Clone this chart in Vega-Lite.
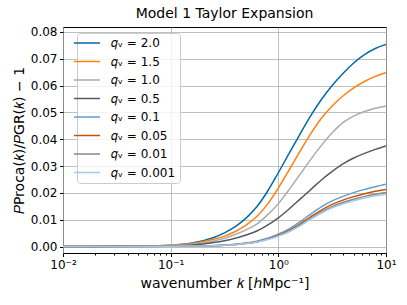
{
  "$schema": "https://vega.github.io/schema/vega-lite/v6.json",
  "width": 323,
  "height": 226,
  "autosize": "none",
  "padding": {"left": 63, "top": 27, "right": 21, "bottom": 52},
  "background": "white",
  "title": {"text": "Model 1 Taylor Expansion", "fontSize": 14, "fontWeight": "normal", "font": "DejaVu Sans", "color": "black", "offset": 5},
  "config": {
    "font": "DejaVu Sans",
    "view": {"stroke": "black", "strokeWidth": 1},
    "axis": {"labelFont": "DejaVu Sans", "titleFont": "DejaVu Sans", "labelColor": "black", "titleColor": "black", "labelFontSize": 12, "titleFontSize": 14, "titleFontWeight": "normal", "tickColor": "black", "domainColor": "black", "gridColor": "#b0b0b0", "gridWidth": 0.8, "tickSize": 3.5, "labelPadding": 2.5}
  },
  "data": {"values": [
    {"k": 0.01, "v": 0.00003, "q": "2.0"}, {"k": 0.031623, "v": 0.0001, "q": "2.0"}, {"k": 0.1, "v": 0.0005, "q": "2.0"}, {"k": 0.158489, "v": 0.0013, "q": "2.0"}, {"k": 0.251189, "v": 0.0034, "q": "2.0"}, {"k": 0.316228, "v": 0.0051, "q": "2.0"}, {"k": 0.398107, "v": 0.0074, "q": "2.0"}, {"k": 0.501187, "v": 0.0106, "q": "2.0"}, {"k": 0.630957, "v": 0.0148, "q": "2.0"}, {"k": 0.794328, "v": 0.0206, "q": "2.0"}, {"k": 1, "v": 0.0275, "q": "2.0"}, {"k": 1.258925, "v": 0.0347, "q": "2.0"}, {"k": 1.584893, "v": 0.0418, "q": "2.0"}, {"k": 1.995262, "v": 0.0487, "q": "2.0"}, {"k": 2.511886, "v": 0.0548, "q": "2.0"}, {"k": 3.162278, "v": 0.0600, "q": "2.0"}, {"k": 3.981072, "v": 0.0645, "q": "2.0"}, {"k": 5.011872, "v": 0.0684, "q": "2.0"}, {"k": 6.309573, "v": 0.0715, "q": "2.0"}, {"k": 7.943282, "v": 0.0738, "q": "2.0"}, {"k": 10, "v": 0.0753, "q": "2.0"},
    {"k": 0.01, "v": 0.00003, "q": "1.5"}, {"k": 0.031623, "v": 0.0001, "q": "1.5"}, {"k": 0.1, "v": 0.0005, "q": "1.5"}, {"k": 0.158489, "v": 0.0011, "q": "1.5"}, {"k": 0.251189, "v": 0.0027, "q": "1.5"}, {"k": 0.316228, "v": 0.0039, "q": "1.5"}, {"k": 0.398107, "v": 0.0056, "q": "1.5"}, {"k": 0.501187, "v": 0.0080, "q": "1.5"}, {"k": 0.630957, "v": 0.0112, "q": "1.5"}, {"k": 0.794328, "v": 0.0158, "q": "1.5"}, {"k": 1, "v": 0.0218, "q": "1.5"}, {"k": 1.258925, "v": 0.0285, "q": "1.5"}, {"k": 1.584893, "v": 0.0354, "q": "1.5"}, {"k": 1.995262, "v": 0.0420, "q": "1.5"}, {"k": 2.511886, "v": 0.0478, "q": "1.5"}, {"k": 3.162278, "v": 0.0524, "q": "1.5"}, {"k": 3.981072, "v": 0.0561, "q": "1.5"}, {"k": 5.011872, "v": 0.0591, "q": "1.5"}, {"k": 6.309573, "v": 0.0615, "q": "1.5"}, {"k": 7.943282, "v": 0.0634, "q": "1.5"}, {"k": 10, "v": 0.0648, "q": "1.5"},
    {"k": 0.01, "v": 0.00002, "q": "1.0"}, {"k": 0.031623, "v": 0.0001, "q": "1.0"}, {"k": 0.1, "v": 0.0004, "q": "1.0"}, {"k": 0.158489, "v": 0.0009, "q": "1.0"}, {"k": 0.251189, "v": 0.0021, "q": "1.0"}, {"k": 0.316228, "v": 0.0031, "q": "1.0"}, {"k": 0.398107, "v": 0.0045, "q": "1.0"}, {"k": 0.501187, "v": 0.0062, "q": "1.0"}, {"k": 0.630957, "v": 0.0084, "q": "1.0"}, {"k": 0.794328, "v": 0.0118, "q": "1.0"}, {"k": 1, "v": 0.0160, "q": "1.0"}, {"k": 1.258925, "v": 0.0212, "q": "1.0"}, {"k": 1.584893, "v": 0.0268, "q": "1.0"}, {"k": 1.995262, "v": 0.0324, "q": "1.0"}, {"k": 2.511886, "v": 0.0377, "q": "1.0"}, {"k": 3.162278, "v": 0.0424, "q": "1.0"}, {"k": 3.981072, "v": 0.0462, "q": "1.0"}, {"k": 5.011872, "v": 0.0486, "q": "1.0"}, {"k": 6.309573, "v": 0.0503, "q": "1.0"}, {"k": 7.943282, "v": 0.0515, "q": "1.0"}, {"k": 10, "v": 0.0524, "q": "1.0"},
    {"k": 0.01, "v": 0.00001, "q": "0.5"}, {"k": 0.031623, "v": 0.00008, "q": "0.5"}, {"k": 0.1, "v": 0.0003, "q": "0.5"}, {"k": 0.158489, "v": 0.0006, "q": "0.5"}, {"k": 0.251189, "v": 0.0015, "q": "0.5"}, {"k": 0.316228, "v": 0.0022, "q": "0.5"}, {"k": 0.398107, "v": 0.0031, "q": "0.5"}, {"k": 0.501187, "v": 0.0043, "q": "0.5"}, {"k": 0.630957, "v": 0.0058, "q": "0.5"}, {"k": 0.794328, "v": 0.0080, "q": "0.5"}, {"k": 1, "v": 0.0107, "q": "0.5"}, {"k": 1.258925, "v": 0.0140, "q": "0.5"}, {"k": 1.584893, "v": 0.0176, "q": "0.5"}, {"k": 1.995262, "v": 0.0212, "q": "0.5"}, {"k": 2.511886, "v": 0.0248, "q": "0.5"}, {"k": 3.162278, "v": 0.0280, "q": "0.5"}, {"k": 3.981072, "v": 0.0308, "q": "0.5"}, {"k": 5.011872, "v": 0.0330, "q": "0.5"}, {"k": 6.309573, "v": 0.0347, "q": "0.5"}, {"k": 7.943282, "v": 0.0362, "q": "0.5"}, {"k": 10, "v": 0.0375, "q": "0.5"},
    {"k": 0.01, "v": 0.00001, "q": "0.1"}, {"k": 0.031623, "v": 0.00003, "q": "0.1"}, {"k": 0.1, "v": 0.0001, "q": "0.1"}, {"k": 0.158489, "v": 0.0002, "q": "0.1"}, {"k": 0.251189, "v": 0.0004, "q": "0.1"}, {"k": 0.316228, "v": 0.0006, "q": "0.1"}, {"k": 0.398107, "v": 0.0009, "q": "0.1"}, {"k": 0.501187, "v": 0.0013, "q": "0.1"}, {"k": 0.630957, "v": 0.0020, "q": "0.1"}, {"k": 0.794328, "v": 0.0031, "q": "0.1"}, {"k": 1, "v": 0.0046, "q": "0.1"}, {"k": 1.258925, "v": 0.0066, "q": "0.1"}, {"k": 1.584893, "v": 0.0092, "q": "0.1"}, {"k": 1.995262, "v": 0.0121, "q": "0.1"}, {"k": 2.511886, "v": 0.0148, "q": "0.1"}, {"k": 3.162278, "v": 0.0170, "q": "0.1"}, {"k": 3.981072, "v": 0.0187, "q": "0.1"}, {"k": 5.011872, "v": 0.0201, "q": "0.1"}, {"k": 6.309573, "v": 0.0213, "q": "0.1"}, {"k": 7.943282, "v": 0.0223, "q": "0.1"}, {"k": 10, "v": 0.0232, "q": "0.1"},
    {"k": 0.01, "v": 0.00001, "q": "0.05"}, {"k": 0.031623, "v": 0.00003, "q": "0.05"}, {"k": 0.1, "v": 0.0001, "q": "0.05"}, {"k": 0.158489, "v": 0.0002, "q": "0.05"}, {"k": 0.251189, "v": 0.0003, "q": "0.05"}, {"k": 0.316228, "v": 0.0005, "q": "0.05"}, {"k": 0.398107, "v": 0.0008, "q": "0.05"}, {"k": 0.501187, "v": 0.0012, "q": "0.05"}, {"k": 0.630957, "v": 0.0018, "q": "0.05"}, {"k": 0.794328, "v": 0.0028, "q": "0.05"}, {"k": 1, "v": 0.0042, "q": "0.05"}, {"k": 1.258925, "v": 0.0060, "q": "0.05"}, {"k": 1.584893, "v": 0.0084, "q": "0.05"}, {"k": 1.995262, "v": 0.0111, "q": "0.05"}, {"k": 2.511886, "v": 0.0136, "q": "0.05"}, {"k": 3.162278, "v": 0.0157, "q": "0.05"}, {"k": 3.981072, "v": 0.0173, "q": "0.05"}, {"k": 5.011872, "v": 0.0186, "q": "0.05"}, {"k": 6.309573, "v": 0.0197, "q": "0.05"}, {"k": 7.943282, "v": 0.0206, "q": "0.05"}, {"k": 10, "v": 0.0213, "q": "0.05"},
    {"k": 0.01, "v": 0.00001, "q": "0.01"}, {"k": 0.031623, "v": 0.00003, "q": "0.01"}, {"k": 0.1, "v": 0.0001, "q": "0.01"}, {"k": 0.158489, "v": 0.0002, "q": "0.01"}, {"k": 0.251189, "v": 0.0003, "q": "0.01"}, {"k": 0.316228, "v": 0.0005, "q": "0.01"}, {"k": 0.398107, "v": 0.0007, "q": "0.01"}, {"k": 0.501187, "v": 0.0011, "q": "0.01"}, {"k": 0.630957, "v": 0.0017, "q": "0.01"}, {"k": 0.794328, "v": 0.0027, "q": "0.01"}, {"k": 1, "v": 0.0040, "q": "0.01"}, {"k": 1.258925, "v": 0.0057, "q": "0.01"}, {"k": 1.584893, "v": 0.0080, "q": "0.01"}, {"k": 1.995262, "v": 0.0105, "q": "0.01"}, {"k": 2.511886, "v": 0.0129, "q": "0.01"}, {"k": 3.162278, "v": 0.0149, "q": "0.01"}, {"k": 3.981072, "v": 0.0164, "q": "0.01"}, {"k": 5.011872, "v": 0.0176, "q": "0.01"}, {"k": 6.309573, "v": 0.0187, "q": "0.01"}, {"k": 7.943282, "v": 0.0195, "q": "0.01"}, {"k": 10, "v": 0.0201, "q": "0.01"},
    {"k": 0.01, "v": 0.00001, "q": "0.001"}, {"k": 0.031623, "v": 0.00003, "q": "0.001"}, {"k": 0.1, "v": 0.0001, "q": "0.001"}, {"k": 0.158489, "v": 0.0002, "q": "0.001"}, {"k": 0.251189, "v": 0.0003, "q": "0.001"}, {"k": 0.316228, "v": 0.0005, "q": "0.001"}, {"k": 0.398107, "v": 0.0007, "q": "0.001"}, {"k": 0.501187, "v": 0.0011, "q": "0.001"}, {"k": 0.630957, "v": 0.0017, "q": "0.001"}, {"k": 0.794328, "v": 0.0026, "q": "0.001"}, {"k": 1, "v": 0.0039, "q": "0.001"}, {"k": 1.258925, "v": 0.0055, "q": "0.001"}, {"k": 1.584893, "v": 0.0077, "q": "0.001"}, {"k": 1.995262, "v": 0.0102, "q": "0.001"}, {"k": 2.511886, "v": 0.0125, "q": "0.001"}, {"k": 3.162278, "v": 0.0144, "q": "0.001"}, {"k": 3.981072, "v": 0.0159, "q": "0.001"}, {"k": 5.011872, "v": 0.0171, "q": "0.001"}, {"k": 6.309573, "v": 0.0181, "q": "0.001"}, {"k": 7.943282, "v": 0.0189, "q": "0.001"}, {"k": 10, "v": 0.0195, "q": "0.001"}
  ]},
  "layer": [
    {
      "mark": {"type": "line", "strokeWidth": 1.5, "interpolate": "monotone", "clip": true},
      "encoding": {
        "x": {"field": "k", "type": "quantitative",
          "scale": {"type": "log", "domain": [0.01, 10], "nice": false},
          "axis": {"orient": "bottom", "values": [0.01, 0.1, 1, 10], "grid": true, "domain": false,
            "labelExpr": "datum.value < 0.05 ? '10⁻²' : datum.value < 0.5 ? '10⁻¹' : datum.value < 5 ? '10⁰' : '10¹'",
            "labelFlush": false,
            "title": "wavenumber 𝑘 [ℎMpc⁻¹]", "titlePadding": 6}},
        "y": {"field": "v", "type": "quantitative",
          "scale": {"domain": [-0.0024, 0.0818], "nice": false, "zero": false},
          "axis": {"values": [0, 0.01, 0.02, 0.03, 0.04, 0.05, 0.06, 0.07, 0.08], "format": ".2f", "grid": true, "domain": false,
            "title": "𝑃Proca(𝑘)/𝑃GR(𝑘) − 1", "titlePadding": 4}},
        "color": {"field": "q", "type": "nominal",
          "scale": {"domain": ["2.0", "1.5", "1.0", "0.5", "0.1", "0.05", "0.01", "0.001"],
            "range": ["#006BA4", "#FF800E", "#ABABAB", "#595959", "#5F9ED1", "#C85200", "#898989", "#A2C8EC"]},
          "legend": {"orient": "none", "legendX": 14, "legendY": 6, "title": null,
            "symbolType": "M-2.6,0L2.6,0", "symbolSize": 100, "symbolStrokeWidth": 1.5,
            "labelFont": "DejaVu Sans", "labelFontSize": 12, "labelColor": "black", "labelOffset": 18, "labelLimit": 300,
            "labelExpr": "'𝑞ᵥ = ' + datum.label",
            "rowPadding": 6.5, "padding": 4, "fillColor": "rgba(255,255,255,0.8)", "strokeColor": "#cccccc", "cornerRadius": 3}}
      }
    },
    {
      "mark": {"type": "point", "opacity": 0},
      "encoding": {
        "x": {"field": "k", "type": "quantitative",
          "axis": {"orient": "bottom", "values": [0.02, 0.03, 0.04, 0.05, 0.06, 0.07, 0.08, 0.09, 0.2, 0.3, 0.4, 0.5, 0.6, 0.7, 0.8, 0.9, 2, 3, 4, 5, 6, 7, 8, 9],
            "labels": false, "grid": false, "domain": false, "tickSize": 2, "title": null}}
      }
    }
  ],
  "resolve": {"axis": {"x": "independent"}}
}
